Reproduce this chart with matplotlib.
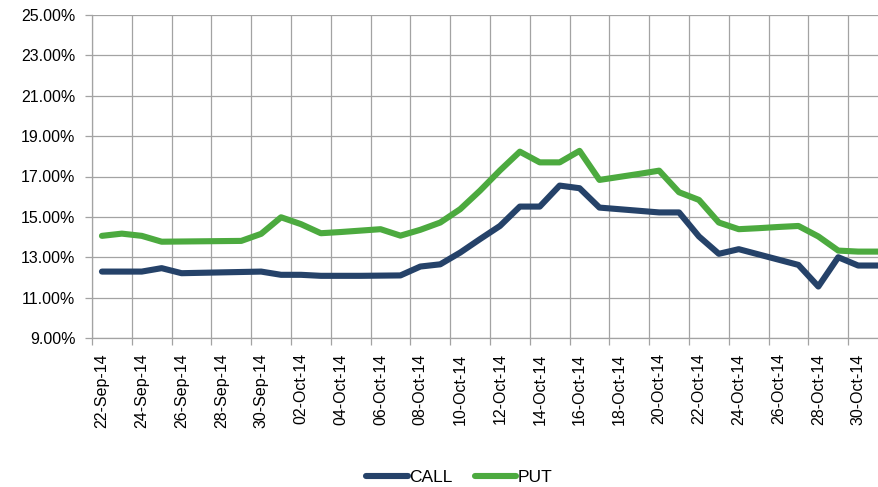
import matplotlib
matplotlib.use("Agg")
import matplotlib.pyplot as plt
import numpy as np
import pandas as pd
from matplotlib.ticker import FixedLocator, FuncFormatter

plt.rcParams["font.family"] = ["Liberation Sans", "DejaVu Sans"]

# daily categories, 22-Sep-14 .. 31-Oct-14
dates = pd.date_range("2014-09-22", "2014-10-31", freq="D")
date_labels = [d.strftime("%d-%b-%y") for d in dates]

call = [12.29, 12.29, 12.29, 12.46, 12.21, 12.23, 12.25, 12.27, 12.29, 12.13,
        12.13, 12.08, 12.08, 12.08, 12.09, 12.10, 12.54, 12.65, 13.23, 13.90,
        14.55, 15.51, 15.51, 16.55, 16.42, 15.46, 15.38, 15.30, 15.22, 15.22,
        14.03, 13.17, 13.40, 13.14, 12.88, 12.62, 11.55, 13.00, 12.59, 12.59]
put = [14.06, 14.17, 14.06, 13.77, 13.78, 13.79, 13.80, 13.81, 14.16, 14.98,
       14.64, 14.19, 14.25, 14.32, 14.39, 14.07, 14.36, 14.72, 15.38, 16.30,
       17.30, 18.23, 17.70, 17.70, 18.27, 16.83, 16.98, 17.13, 17.29, 16.22,
       15.84, 14.72, 14.39, 14.44, 14.50, 14.55, 14.03, 13.33, 13.28, 13.28]

y_ticks = [9, 11, 13, 15, 17, 19, 21, 23, 25]

CALL_COLOR = "#254269"
PUT_COLOR = "#4CAA3F"
GRID = "#A3A3A3"

W, H = 879, 487
fig = plt.figure(figsize=(W / 100, H / 100), dpi=100)
ax = fig.add_axes([92 / W, (H - 338) / H, (W - 92) / W, (338 - 15) / H])

x = np.arange(len(dates))
ax.plot(x, call, color=CALL_COLOR, lw=4.4, solid_joinstyle="round",
        solid_capstyle="round", label="CALL", zorder=3)
ax.plot(x, put, color=PUT_COLOR, lw=4.4, solid_joinstyle="round",
        solid_capstyle="round", label="PUT", zorder=3)

ax.set_xlim(-0.5, -0.5 + (W - 92) / 19.9)
ax.set_ylim(9, 25)

# labels on every other day, gridlines/ticks on category boundaries
ax.xaxis.set_major_locator(FixedLocator(x[::2]))
ax.set_xticklabels(date_labels[::2], rotation=90, va="top", ha="center")
ax.xaxis.set_minor_locator(FixedLocator(np.arange(-0.5, len(dates), 2)))
ax.tick_params(axis="x", which="major", length=0, pad=11, labelsize=11.5)
ax.tick_params(axis="x", which="minor", length=5, color=GRID, width=0.9)
ax.grid(axis="x", which="minor", color=GRID, lw=0.9)

ax.set_yticks(y_ticks)
ax.yaxis.set_major_formatter(FuncFormatter(lambda v, _: f"{v:.2f}%"))
ax.tick_params(axis="y", length=5, color=GRID, width=0.9, pad=7, labelsize=11.5)
ax.grid(axis="y", color=GRID, lw=0.9)
ax.set_axisbelow(True)

for s in ["top", "right"]:
    ax.spines[s].set_visible(False)
for s in ["left", "bottom"]:
    ax.spines[s].set_color(GRID)
    ax.spines[s].set_linewidth(0.9)

fig.legend(loc="center", bbox_to_anchor=(459 / W, 10 / H), ncol=2, frameon=False,
           fontsize=12.5, handlelength=2.4, handletextpad=0.05, columnspacing=1.3)

fig.savefig("out.png", dpi=100)
